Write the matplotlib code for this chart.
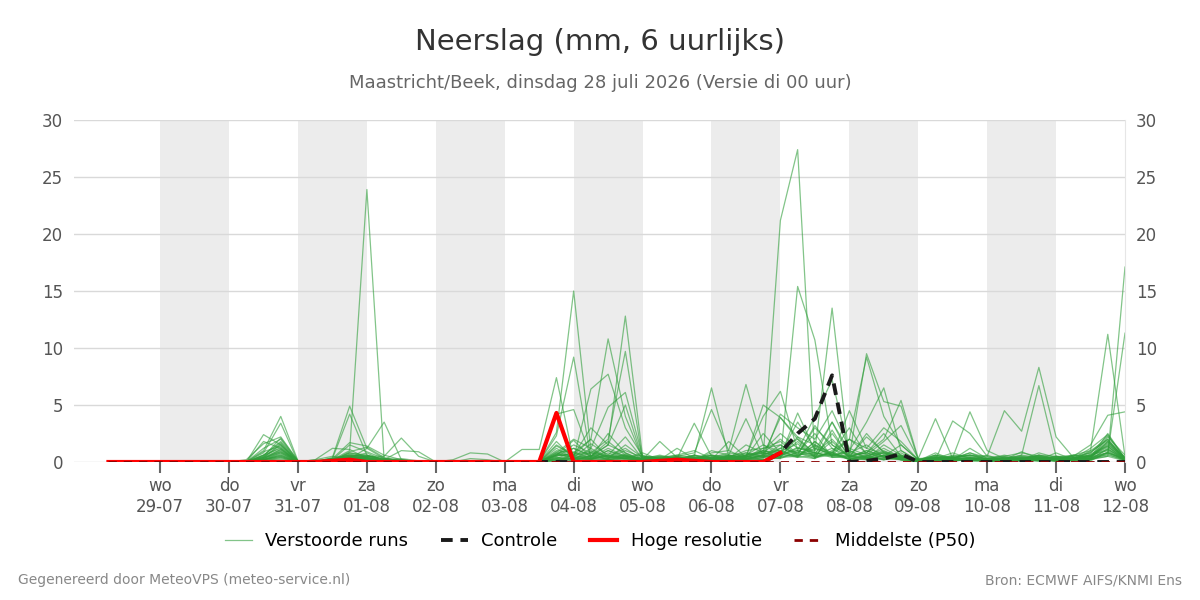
import matplotlib
matplotlib.use("Agg")
import matplotlib.pyplot as plt
import numpy as np

plt.rcParams['font.family'] = ['DejaVu Sans']

# 6-hourly steps, first value valid 28-07 06:00, last 12-08 00:00
hours = np.arange(6, 361, 6)

weekdays = ["wo", "do", "vr", "za", "zo", "ma", "di", "wo", "do", "vr", "za", "zo", "ma", "di", "wo"]
dates = ["29-07", "30-07", "31-07", "01-08", "02-08", "03-08", "04-08", "05-08",
         "06-08", "07-08", "08-08", "09-08", "10-08", "11-08", "12-08"]

Z8 = [0, 0, 0, 0, 0, 0, 0, 0]

# perturbed ensemble members (mm per 6 h)
runs = [
    Z8 + [0, 2.4, 1.5, 0.1, 0, 0.2, 0.5, 0.3, 0.1, 0, 0, 0, 0, 0, 0, 0, 0, 0, 1.2, 0.3, 0.8, 0.5, 1.2, 0.2, 1.8, 0.4, 0.1, 0, 0.2, 0.6, 1.0, 2.5, 1.2, 0.8, 2.0, 0.4, 1.0, 0.5, 1.5, 0.2, 0, 0.3, 0.8, 0.2, 0.5, 0.2, 0.8, 0.4, 0.3, 1.2, 2.4, 0.3],
    Z8 + [0, 1.0, 4.0, 0.1, 0.1, 0.3, 1.7, 1.4, 0.6, 0.2, 0, 0, 0, 0, 0, 0, 0, 0, 0.6, 1.9, 0.4, 2.5, 0.8, 0.1, 0.2, 1.2, 0.3, 0.6, 0.3, 1.5, 0.8, 0.5, 4.3, 1.0, 3.5, 0.6, 0.8, 2.5, 0.5, 0.1, 0.6, 0.2, 1.2, 0.3, 0.2, 0.9, 0.3, 0.5, 0.5, 0.8, 2.0, 0.2],
    Z8 + [0, 0.8, 3.4, 0, 0, 0.1, 0.8, 0.6, 0.2, 0, 0, 0, 0, 0, 0, 0, 0, 0, 0.9, 0.4, 1.6, 0.6, 2.2, 0.3, 0.1, 0.3, 3.4, 0.5, 0.2, 0.4, 1.2, 1.8, 0.6, 3.2, 1.2, 0.5, 2.2, 0.9, 0.3, 0, 0.2, 0.6, 0.4, 0.1, 0.3, 0.1, 0.6, 0.2, 0.4, 0.6, 1.8, 0.4],
    Z8 + [0.2, 1.6, 2.2, 0.1, 0, 0.2, 1.5, 0.9, 0.3, 0.1, 0, 0, 0, 0, 0, 0, 0, 0, 1.4, 0.6, 2.0, 0.4, 1.0, 0.4, 0.3, 0.2, 0.5, 6.5, 0.5, 0.8, 0.4, 1.2, 2.0, 0.5, 0.8, 3.0, 0.6, 1.8, 3.2, 0.3, 0.4, 0.1, 0.2, 0.6, 0.1, 0.4, 0.2, 0.8, 0.2, 0.3, 2.2, 0.6],
    Z8 + [0, 1.2, 2.0, 0, 0, 0.3, 0.6, 0.5, 0.2, 0.1, 0, 0, 0, 0, 0, 0, 0, 0, 0.7, 1.2, 0.5, 1.8, 0.6, 0.1, 0.2, 0.5, 0.8, 4.6, 1.0, 0.3, 0.6, 3.9, 2.2, 1.5, 0.6, 0.8, 1.5, 0.4, 0.8, 0, 0.2, 0.3, 0.1, 0.3, 0.6, 0.3, 0.2, 0.3, 0.2, 0.5, 1.6, 0.2],
    Z8 + [0, 0.6, 1.8, 0.1, 0, 0.1, 0.9, 1.3, 0.4, 0, 0, 0, 0, 0, 0, 0, 0, 0, 0.5, 0.8, 0.3, 1.0, 0.4, 0.6, 0.1, 0.4, 0.2, 0.8, 1.0, 6.8, 1.5, 0.6, 1.8, 0.4, 2.5, 0.5, 0.3, 0.9, 0.6, 0.1, 0.8, 0.2, 0.5, 0.1, 0.2, 0.6, 0.4, 0.2, 0.6, 0.4, 2.5, 0.3],
    Z8 + [0, 1.8, 1.2, 0, 0, 0.2, 0.4, 0.8, 0.1, 0.3, 0.1, 0, 0, 0, 0, 0, 0, 0, 0.4, 0.2, 1.2, 0.3, 0.6, 0.2, 0.4, 0.6, 1.0, 0.3, 0.6, 3.8, 0.5, 1.5, 0.5, 1.2, 0.6, 1.0, 0.4, 0.3, 0.2, 0, 0.1, 0.4, 0.6, 0.2, 0.3, 0.2, 0.1, 0.5, 0.1, 0.7, 1.4, 0.1],
    Z8 + [0, 0.4, 1.6, 0, 0.2, 0.5, 0.3, 0.4, 0.2, 0, 0, 0, 0, 0, 0, 0, 0, 0, 0.3, 0.1, 0.6, 0.2, 0.3, 0.8, 0.2, 0.1, 0.4, 0.6, 0.2, 0.5, 4.0, 6.2, 1.0, 0.6, 1.8, 0.4, 0.5, 1.2, 0.4, 0.1, 0.3, 0.8, 0.3, 0, 0.2, 0.1, 0.3, 0.1, 0.4, 0.2, 1.2, 0.1],
    Z8 + [0, 0.9, 1.4, 0, 0, 0.1, 0.2, 0.3, 0.1, 0, 0, 0, 0, 0, 0, 0, 0, 0, 0.2, 0.3, 0.2, 0.8, 0.3, 0.1, 0.1, 0.2, 0.1, 0.3, 0.1, 0.4, 5.0, 3.9, 2.0, 0.8, 0.5, 0.3, 0.2, 0.6, 0.2, 0, 0.5, 0.1, 0.2, 0.1, 0.1, 0.3, 0.5, 0.2, 0.2, 0.1, 0.9, 0.2],
    Z8 + [0, 0.3, 1.0, 0, 0, 0.1, 0.3, 0.2, 0, 0, 0, 0, 0, 0, 0, 0, 0, 0, 0.1, 0.6, 0.3, 0.2, 0.5, 0.2, 0.3, 0.1, 0.2, 0.1, 0.4, 0.2, 0.3, 4.2, 3.0, 2.0, 4.5, 1.2, 0.6, 0.2, 0.4, 0.1, 0.2, 0.1, 0.4, 0.3, 0.1, 0.2, 0.1, 0.4, 0.3, 0.6, 1.0, 0.1],
    Z8 + [0, 0.5, 2.1, 0.1, 0, 0.2, 0.5, 0.6, 0.2, 0.1, 0, 0, 0, 0, 0, 0, 0, 0, 0.8, 0.2, 0.4, 0.3, 0.7, 0.2, 0.2, 0.3, 0.2, 0.4, 0.3, 0.6, 0.9, 1.0, 0.5, 1.5, 0.8, 2.0, 1.2, 0.7, 0.5, 0.1, 0.4, 0.2, 0.2, 0.1, 0.4, 0.3, 0.2, 0.1, 0.2, 0.9, 1.9, 0.2],
    Z8 + [0, 0.2, 0.6, 0, 0, 0.2, 1.0, 23.9, 0.2, 0.1, 0, 0, 0, 0, 0, 0, 0, 0, 0.3, 0.1, 0.2, 0.1, 0.3, 0.1, 0, 0.2, 0.1, 0.2, 0.1, 0.3, 0.5, 21.2, 27.4, 0.4, 0.8, 0.2, 0.3, 0.5, 0.2, 0, 0.1, 0.2, 0.1, 0, 0.2, 0.1, 0.3, 0.1, 0.1, 0.2, 0.5, 0.1],
    Z8 + [0, 0.3, 0.8, 0, 0, 0.4, 4.9, 1.2, 0.3, 0.2, 0, 0, 0, 0, 0, 0, 0, 0, 0.4, 0.3, 0.5, 0.3, 1.5, 0.4, 0.3, 0.4, 0.3, 0.2, 0.2, 0.3, 0.6, 0.3, 15.4, 10.7, 1.5, 0.5, 0.8, 0.4, 0.3, 0.1, 0.2, 0.3, 0.2, 0.1, 0.1, 0.2, 0.4, 0.2, 0.5, 0.3, 1.1, 0.2],
    Z8 + [0, 0.2, 0.5, 0, 0.1, 0.3, 4.2, 0.6, 0.1, 0, 0, 0, 0, 0, 0, 0, 0, 0, 0.6, 0.5, 0.3, 0.6, 0.4, 0.3, 0.1, 0.2, 0.6, 0.3, 0.5, 0.4, 0.8, 0.6, 1.2, 1.0, 13.5, 0.3, 0.4, 0.2, 0.6, 0.1, 0.3, 0.1, 0.2, 0.2, 0.3, 0.1, 0.2, 0.1, 0.2, 0.4, 0.8, 0.3],
    Z8 + [0, 0.1, 0.4, 0, 0.2, 1.2, 1.1, 0.3, 0.1, 0, 0, 0, 0, 0, 0, 0, 0, 0, 0.2, 0.6, 0.8, 0.2, 0.5, 0.1, 0.2, 0.1, 0.3, 0.2, 1.8, 0.4, 2.5, 0.8, 1.0, 4.0, 7.2, 0.8, 0.5, 0.3, 1.0, 0.1, 0.6, 0.4, 0.2, 0.1, 0.2, 0.5, 0.3, 0.2, 0.3, 0.5, 1.5, 0.4],
    Z8 + [0, 0.4, 0.9, 0, 0, 0.1, 0.3, 1.2, 3.5, 0.2, 0, 0, 0, 0, 0, 0, 0, 0, 0.5, 1.2, 0.6, 0.4, 0.3, 0.2, 0.3, 0.5, 0.2, 0.1, 0.3, 0.2, 0.4, 0.5, 0.6, 0.8, 0.4, 0.5, 9.5, 5.3, 4.9, 0.2, 0.2, 0.4, 0.3, 0.1, 0.1, 0.2, 0.1, 0.2, 0.4, 0.2, 0.7, 0.1],
    Z8 + [0, 0.2, 0.7, 0, 0, 0.2, 0.4, 0.5, 0.5, 2.1, 0.5, 0, 0, 0, 0, 0, 0, 0, 0.3, 0.9, 0.4, 1.2, 0.5, 0.2, 0.5, 0.3, 0.6, 0.1, 0.6, 0.5, 0.2, 0.4, 0.8, 0.3, 1.0, 2.0, 9.2, 4.0, 1.5, 0.2, 0.3, 0.2, 0.4, 0.2, 0.2, 0.3, 0.2, 0.1, 0.6, 0.5, 1.3, 0.3],
    Z8 + [0, 0.6, 1.2, 0, 0, 0.1, 0.7, 0.4, 0.2, 1.0, 0.9, 0, 0, 0, 0, 0, 0, 0, 0.6, 0.7, 0.9, 0.4, 0.6, 0.3, 0.4, 0.2, 0.1, 1.0, 0.6, 0.3, 0.5, 0.7, 0.4, 0.6, 3.5, 1.0, 3.5, 6.5, 1.0, 0.1, 0.2, 0.5, 0.6, 0.3, 0.4, 0.2, 0.6, 0.3, 0.2, 0.4, 0.6, 0.2],
    Z8 + [0, 0.1, 0.3, 0, 0, 0.3, 0.2, 0.1, 0, 0, 0, 0, 0.2, 0.8, 0.7, 0, 0, 0, 0.2, 0.4, 0.2, 0.6, 0.2, 0.1, 0.1, 0.2, 0.4, 0.2, 0.2, 0.3, 0.2, 0.4, 0.5, 1.8, 0.6, 2.0, 0.8, 2.0, 5.4, 0.3, 0.1, 0.2, 0.3, 0.2, 0.2, 0.4, 0.2, 0.1, 0.3, 0.2, 0.8, 0.2],
    Z8 + [0, 0.2, 0.5, 0, 0, 0.1, 0.2, 0.2, 0.1, 0, 0, 0, 0, 0.3, 0.2, 0, 0, 0, 0.1, 0.3, 0.3, 0.2, 0.4, 0.2, 0.2, 0.1, 0.2, 0.3, 0.4, 1.0, 1.2, 1.5, 0.6, 1.4, 0.5, 4.5, 1.2, 3.0, 1.8, 0.2, 0.4, 0.2, 0.1, 0.2, 0.1, 0.3, 0.2, 0.4, 0.6, 1.0, 2.0, 0.3],
    Z8 + [0, 0.1, 0.2, 0, 0, 0, 0.2, 0.3, 0, 0, 0, 0, 0, 0, 0, 0, 1.1, 1.1, 7.4, 0.2, 0.3, 0.5, 0.3, 0.1, 0.2, 0.1, 0.3, 0.2, 0.1, 0.3, 0.2, 0.6, 1.0, 0.5, 0.8, 0.3, 0.4, 0.2, 0.5, 0.3, 3.8, 0.3, 0.2, 0.1, 0.3, 0.1, 0.2, 0.1, 0.2, 0.3, 0.8, 0.2],
    Z8 + [0, 0.2, 0.6, 0, 0, 0.2, 0.3, 0.2, 0, 0, 0, 0, 0, 0, 0, 0, 0, 0, 4.2, 4.6, 0.5, 1.5, 0.8, 0.2, 0.3, 0.2, 0.6, 0.4, 0.8, 0.6, 1.5, 0.9, 1.6, 0.4, 0.9, 0.2, 0.6, 0.8, 0.2, 0.1, 0.2, 3.6, 2.5, 0.5, 0.2, 0.4, 0.3, 0.2, 0.3, 0.5, 1.4, 0.2],
    Z8 + [0, 0.4, 1.1, 0, 0, 0.1, 0.4, 0.3, 0.1, 0, 0, 0, 0, 0, 0, 0, 0, 0, 2.6, 15.0, 1.0, 0.5, 0.3, 0.4, 0.5, 0.3, 0.2, 0.6, 0.4, 0.5, 0.8, 0.4, 2.2, 0.6, 1.2, 0.2, 0.3, 0.6, 0.4, 0.2, 0.3, 0.4, 4.4, 1.0, 0.3, 0.2, 0.4, 0.3, 0.2, 0.6, 1.1, 0.3],
    Z8 + [0, 0.2, 0.8, 0, 0, 0.2, 0.6, 0.4, 0.1, 0.1, 0, 0, 0, 0, 0, 0, 0, 0, 2.3, 9.2, 0.3, 1.0, 0.5, 0.2, 0.2, 0.4, 0.3, 0.2, 0.5, 0.2, 0.6, 1.2, 0.8, 2.5, 0.4, 0.6, 0.2, 0.6, 0.4, 0.1, 0.2, 0.3, 0.6, 0.5, 4.5, 2.7, 8.3, 2.2, 0.4, 0.3, 1.8, 0.2],
    Z8 + [0, 0.3, 0.9, 0.1, 0, 0.2, 0.5, 0.3, 0.2, 0, 0, 0, 0, 0, 0, 0, 0, 0, 1.8, 0.3, 6.4, 7.7, 3.0, 0.5, 0.4, 0.2, 0.5, 0.3, 0.3, 0.5, 0.4, 0.8, 0.5, 0.3, 2.8, 0.4, 1.0, 0.5, 0.3, 0.1, 0.4, 0.2, 0.3, 0.2, 0.3, 0.6, 6.7, 0.5, 0.3, 0.5, 1.7, 0.2],
    Z8 + [0, 0.5, 1.3, 0, 0, 0.2, 0.3, 0.5, 0.3, 0, 0, 0, 0, 0, 0, 0, 0, 0, 1.0, 0.8, 2.0, 10.8, 4.0, 0.3, 0.6, 0.3, 0.2, 0.5, 0.6, 0.4, 1.0, 0.5, 1.3, 0.8, 0.6, 0.4, 2.5, 0.8, 0.4, 0.2, 0.6, 0.3, 0.8, 0.4, 0.5, 0.8, 0.5, 0.3, 0.3, 0.5, 0.8, 11.3],
    Z8 + [0, 0.2, 0.4, 0, 0, 0.1, 0.5, 0.2, 0, 0, 0, 0, 0, 0, 0, 0, 0, 0, 0.7, 0.4, 0.5, 1.5, 12.8, 0.5, 0.3, 0.6, 0.4, 0.2, 0.5, 0.2, 0.7, 1.0, 0.4, 1.8, 0.5, 1.0, 0.3, 1.5, 0.6, 0.1, 0.5, 0.2, 0.3, 0.2, 0.2, 0.3, 0.6, 0.5, 0.2, 1.0, 11.2, 0.5],
    Z8 + [0, 0.3, 1.1, 0, 0, 0.1, 0.2, 0.4, 0.1, 0, 0, 0, 0, 0, 0, 0, 0, 0, 0.6, 1.5, 0.8, 2.0, 9.7, 0.2, 0.2, 0.5, 0.3, 0.4, 0.2, 0.8, 0.5, 0.3, 0.9, 0.4, 0.6, 0.5, 0.8, 0.4, 0.2, 0.1, 0.3, 0.5, 0.2, 0.1, 0.2, 0.1, 0.3, 0.2, 0.1, 0.3, 0.5, 17.1],
    Z8 + [0, 0.6, 1.7, 0, 0, 0.3, 0.6, 0.3, 0.2, 0.1, 0, 0, 0, 0, 0, 0, 0, 0, 0.8, 2.0, 1.2, 4.8, 6.1, 0.5, 0.3, 0.2, 0.4, 0.3, 0.4, 0.3, 1.0, 0.7, 3.5, 1.2, 0.7, 0.3, 0.5, 1.0, 0.3, 0.1, 0.3, 0.1, 0.3, 0.2, 0.4, 0.2, 0.5, 0.3, 0.5, 1.5, 4.1, 4.4],
    Z8 + [0, 0.4, 1.5, 0, 0, 0.2, 0.8, 0.5, 0.3, 0.2, 0, 0, 0, 0, 0, 0, 0, 0, 1.5, 0.6, 3.0, 1.5, 5.0, 0.3, 0.2, 0.4, 0.3, 0.3, 0.4, 0.6, 0.8, 2.0, 0.7, 3.0, 1.5, 0.5, 0.4, 0.8, 0.5, 0.1, 0.2, 0.4, 0.6, 0.3, 0.3, 0.5, 0.4, 0.2, 0.3, 0.8, 2.3, 0.3],
]

controle = [0] * 38 + [0, 0.8, 2.5, 3.8, 7.6, 0, 0.1, 0.3, 0.7, 0] + [0] * 12
# high resolution run only reaches 07-08 00:00
hoge_resolutie = ([0] * 13 + [0.1, 0.2] + [0] * 11 + [4.3] + [0] * 5
                  + [0.1, 0.2, 0.1, 0, 0, 0, 0, 0.8] + [np.nan] * 20)
mediaan = [0] * 60

fig = plt.figure(figsize=(12, 6), dpi=100)
ax = fig.add_axes([74 / 1200, 1 - 462 / 600, (1125 - 74) / 1200, (462 - 120) / 600])

day_ticks = np.arange(24, 361, 24)
for d in day_ticks[:-1:2]:
    ax.axvspan(d, d + 24, color="#ececec", lw=0, zorder=0)

for r in runs:
    ax.plot(hours, r, color="#2f9e3a", alpha=0.6, lw=0.9, zorder=2)
ax.plot(hours, controle, color="#1a1a1a", lw=2.8, ls=(0, (3, 2)), zorder=3)
ax.plot(hours, hoge_resolutie, color="#ff0000", lw=3, zorder=4)
ax.plot(hours, mediaan, color="#8b0000", lw=2, ls=(0, (3, 2.5)), zorder=5)

ax.set_xlim(-6, 360)
ax.set_ylim(0, 30)
ax.set_yticks(range(0, 31, 5))
ax.yaxis.grid(True, color="#d9d9d9", lw=1)
ax.set_axisbelow(True)
ax.tick_params(axis="y", length=0, labelsize=12, labelcolor="#555555", pad=8,
               labelleft=True, labelright=True)
ax.set_xticks(day_ticks)
ax.set_xticklabels([f"{w}\n{d}" for w, d in zip(weekdays, dates)])
ax.tick_params(axis="x", length=8, width=1.5, color="#666666", labelsize=12,
               labelcolor="#555555", pad=3)
for s in ["left", "top", "bottom"]:
    ax.spines[s].set_visible(False)
ax.spines["right"].set_color("#e6e6e6")

fig.text(0.5, 0.93, "Neerslag (mm, 6 uurlijks)", ha="center", va="center",
         fontsize=21, color="#333333")
fig.text(0.5, 0.862, "Maastricht/Beek, dinsdag 28 juli 2026 (Versie di 00 uur)",
         ha="center", va="center", fontsize=13, color="#666666")

handles = [
    plt.Line2D([], [], color="#2f9e3a", alpha=0.6, lw=0.9),
    plt.Line2D([], [], color="#1a1a1a", lw=2.8, ls=(0, (3, 2))),
    plt.Line2D([], [], color="#ff0000", lw=3),
    plt.Line2D([], [], color="#8b0000", lw=2, ls=(0, (3, 2.5))),
]
fig.legend(handles, ["Verstoorde runs", "Controle", "Hoge resolutie", "Middelste (P50)"],
           loc="center", bbox_to_anchor=(0.5, 0.098), ncol=4, frameon=False,
           fontsize=13, handlelength=1.5, handletextpad=0.75, columnspacing=1.8)

fig.text(0.015, 0.033, "Gegenereerd door MeteoVPS (meteo-service.nl)", fontsize=10,
         color="#888888", va="center")
fig.text(0.985, 0.033, "Bron: ECMWF AIFS/KNMI Ens", fontsize=10, color="#888888",
         va="center", ha="right")

fig.savefig("out.png", dpi=100)
